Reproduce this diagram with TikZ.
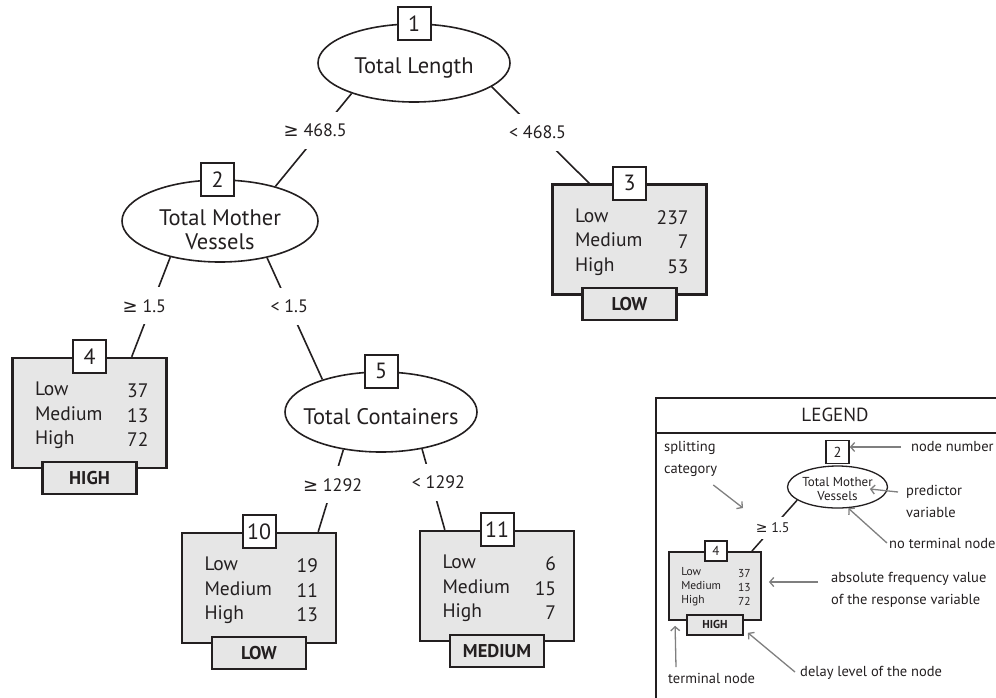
\documentclass[tikz,border=0pt]{standalone}
\usepackage{fontspec}
\setmainfont{PT Sans}
\newfontfamily\dejavusym{DejaVu Sans}
\usetikzlibrary{shapes.geometric,arrows.meta}
\definecolor{ink}{HTML}{231F20}
\definecolor{panel}{HTML}{E6E6E6}
\definecolor{pointer}{HTML}{7F7F7F}
\newcommand\gesym{{\dejavusym ≥}}
% terminal node: framed box with number tab, class tab and frequency table
\newcommand\TermNode[7]{%
  \node[termbox] (#1) at (#2) {};
  \node[numbox] (#1-num) at (#1.north) {#3};
  \node[classbox] (#1-class) at ([yshift=-8.5pt]#1.south) {#7};
  \node[rowtext, anchor=west, align=left] (#1-keys) at ([xshift=23.5pt,yshift=-2.5pt]#1.west) {Low\\Medium\\High};
  \node[rowtext, anchor=east, align=right] (#1-vals) at ([xshift=-19pt,yshift=-2.5pt]#1.east) {#4\\#5\\#6};
}
\begin{document}
\begin{tikzpicture}[x=1pt, y=-1pt,
  splitnode/.style={ellipse, draw=ink, line width=1.6pt, fill=white,
    minimum width=192pt, minimum height=78pt, inner sep=0pt},
  splittext/.style={text=ink, align=center, inner sep=0pt,
    font=\fontsize{22.5}{24}\selectfont},
  numbox/.style={draw=ink, fill=white, line width=2pt, minimum size=33pt,
    inner sep=0pt, text=ink, font=\fontsize{22}{22}\selectfont},
  termbox/.style={draw=ink, fill=panel, line width=2.4pt,
    minimum width=154pt, minimum height=110pt, inner sep=0pt},
  classbox/.style={draw=ink, fill=panel, line width=2.4pt,
    minimum width=94pt, minimum height=32pt, inner sep=0pt, text=ink,
    font=\bfseries\fontsize{18.5}{18.5}\selectfont},
  rowtext/.style={text=ink, inner sep=0pt, font=\fontsize{19.5}{24.5}\selectfont},
  edge/.style={draw=ink, line width=1.6pt},
  splitlabel/.style={fill=white, text=ink, inner xsep=1pt, inner ysep=12pt,
    font=\fontsize{18}{18}\selectfont},
  legtext/.style={text=ink, inner sep=1pt, align=left,
    font=\fontsize{14.5}{22}\selectfont},
  pointer/.style={draw=pointer, line width=1.3pt,
    -{Straight Barb[length=4pt,width=9pt]}},
]
\useasboundingbox (0,0) rectangle (996,697);
\clip (0,0) rectangle (996,697);

% ---- splitting nodes ----
\node[splitnode] (s1) at (414,63) {};
\node[numbox] (s1-num) at (s1.north) {1};
\node[splittext] (s1-text) at ([yshift=-5pt]s1.center) {Total Length};

\node[splitnode, minimum width=196pt, minimum height=82pt] (s2) at (220,221) {};
\node[numbox] (s2-num) at ([xshift=-2.5pt]s2.north) {2};
\node[splittext] (s2-text) at ([yshift=-9pt]s2.center) {Total Mother\\Vessels};

\node[splitnode, minimum height=80pt] (s5) at (381,412) {};
\node[numbox] (s5-num) at (s5.north) {5};
\node[splittext] (s5-text) at ([yshift=-5pt]s5.center) {Total Containers};

% ---- terminal nodes ----
\TermNode{t3}{629.5,239.5}{3}{237}{7}{53}{LOW}
\TermNode{t4}{89.5,413}{4}{37}{13}{72}{HIGH}
\TermNode{t10}{259,588}{10}{19}{11}{13}{LOW}
\TermNode{t11}{497,586}{11}{6}{15}{7}{MEDIUM}

% ---- branches with split values ----
\draw[edge] (s1.206) -- node[splitlabel, pos=.40, xshift=-6pt] {\gesym{} 468.5} (s2.32);
\draw[edge] (s1.-17) -- node[splitlabel, pos=.47] {< 468.5} ([xshift=38pt]t3.north west);
\draw[edge] (s2.216) -- node[splitlabel, pos=.49, xshift=-7pt] {\gesym{} 1.5} ([xshift=-36pt]t4.north east);
\draw[edge] (s2.-38) -- node[splitlabel, pos=.40] {< 1.5} (s5.151);
\draw[edge] (s5.225) -- node[splitlabel, pos=.43] {\gesym{} 1292} ([xshift=-19pt]t10.north east);
\draw[edge] (s5.-42) -- node[splitlabel, pos=.41, xshift=7pt] {< 1292} ([xshift=26pt]t11.north west);

% ---- legend panel ----
\node[draw=ink, line width=2pt, minimum width=360pt, minimum height=320pt,
  anchor=north west, inner sep=0pt] (legend) at (655,397) {};
\coordinate (legend-rule) at (655,433);
\draw[draw=ink, line width=2pt] (legend-rule) -- (legend-rule -| legend.east);
\node[text=ink, font=\fontsize{19}{19}\selectfont] (legend-title) at (835,415) {LEGEND};

% sample splitting node
\node[splitnode, minimum width=100pt, minimum height=42pt, line width=1.3pt] (lg-s) at (837.5,487) {};
\node[numbox, minimum size=23pt, line width=1.6pt, font=\fontsize{14.5}{14.5}\selectfont,
  anchor=south] (lg-s-num) at ([yshift=1pt]lg-s.north) {2};
\node[splittext, font=\fontsize{13}{14}\selectfont] (lg-s-text) at ([yshift=-2pt]lg-s.center) {Total Mother\\Vessels};

% sample terminal node
\node[termbox, minimum width=92pt, minimum height=68pt, line width=1.8pt] (lg-t) at (715,586) {};
\node[numbox, minimum width=22pt, minimum height=20pt, line width=1.6pt,
  font=\fontsize{13}{13}\selectfont] (lg-t-num) at ([xshift=1pt]lg-t.north) {4};
\node[classbox, minimum width=56pt, minimum height=20pt, line width=1.8pt,
  font=\bfseries\fontsize{11.5}{11.5}\selectfont] (lg-t-class) at ([yshift=-4pt]lg-t.south) {HIGH};
\node[rowtext, font=\fontsize{11.5}{14}\selectfont, anchor=west, align=left]
  (lg-t-keys) at ([xshift=13pt,yshift=-1pt]lg-t.west) {Low\\Medium\\High};
\node[rowtext, font=\fontsize{11.5}{14}\selectfont, anchor=east, align=right]
  (lg-t-vals) at ([xshift=-11pt,yshift=-1pt]lg-t.east) {37\\13\\72};

\draw[edge, line width=1.5pt] (lg-s.198) -- node[splitlabel, pos=.54, inner ysep=6pt,
  font=\fontsize{14}{14}\selectfont] {\gesym{} 1.5} ([xshift=-10pt]lg-t.north east);

% explanations
\node[legtext, anchor=west] (lg-split) at (663,459) {splitting\\category};
\node[legtext, anchor=west] (lg-nn) at (910,447) {node number};
\node[legtext, anchor=west] (lg-pred) at (905,501) {predictor\\variable};
\node[legtext, anchor=west] (lg-nt) at (888,543) {no terminal node};
\node[legtext, anchor=west] (lg-freq) at (830,590) {absolute frequency value\\of the response variable};
\node[legtext, anchor=west] (lg-term) at (667,678) {terminal node};
\node[legtext, anchor=west] (lg-delay) at (799,673) {delay level of the node};

\coordinate (lg-split-tip) at (743,508);
\draw[pointer] ([shift={(-5pt,-26pt)}]lg-split.east) -- (lg-split-tip);
\draw[pointer, shorten <=9pt] (lg-nn.west) -- (lg-nn.west -| lg-s-num.east);
\draw[pointer] ([shift={(-7pt,9pt)}]lg-pred.west) -- ([xshift=-3pt]lg-s-text.east);
\draw[pointer] ([xshift=-1pt]lg-nt.west) -- (lg-s.-63);
\draw[pointer] ([shift={(-12pt,8pt)}]lg-freq.west) -- ([shift={(7pt,4pt)}]lg-t.east);
\draw[pointer] ([shift={(9pt,11pt)}]lg-term.west) -- ([shift={(7pt,-5pt)}]lg-t.south west);
\draw[pointer] ([shift={(-4pt,1pt)}]lg-delay.west) -- ([shift={(4pt,3pt)}]lg-t-class.south east);
\end{tikzpicture}
\end{document}
